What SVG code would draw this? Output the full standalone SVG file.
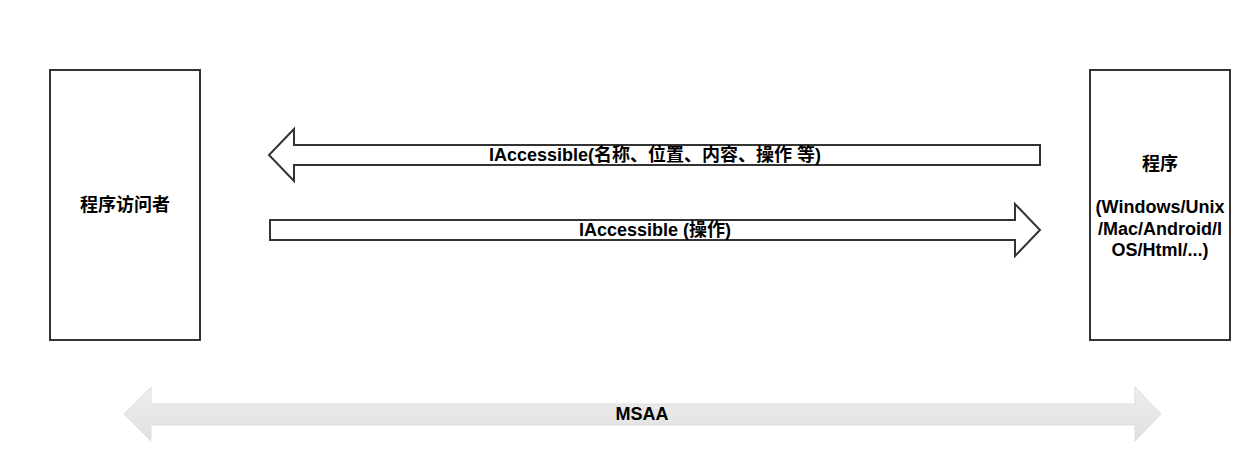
<svg xmlns="http://www.w3.org/2000/svg" width="1250" height="460" viewBox="0 0 1250 460">
<style>
.box{fill:#ffffff;stroke:#333333;stroke-width:2}
.arr{fill:#ffffff;stroke:#333333;stroke-width:2;stroke-linejoin:miter}
.t{font-family:"Liberation Sans","Noto Sans CJK SC",Arial,sans-serif;font-size:18px;font-weight:bold;fill:#000000;text-anchor:middle}
</style>
<defs>
<linearGradient id="g" x1="0" y1="0" x2="0" y2="1">
<stop offset="0" stop-color="#eeeeee"/>
<stop offset="1" stop-color="#e0e0e0"/>
</linearGradient>
</defs>
<rect width="1250" height="460" fill="#ffffff"/>
<g id="accessor">
<rect class="box" x="50" y="70" width="150" height="270"/>
<text class="t" x="125" y="205" dy="0.35em">程序访问者</text>
</g>
<g id="program">
<rect class="box" x="1090" y="70" width="140" height="270"/>
<text class="t" x="1160" y="163.6" dy="0.35em">程序</text>
<text class="t" x="1160" y="206.8" dy="0.35em">(Windows/Unix</text>
<text class="t" x="1160" y="228.4" dy="0.35em">/Mac/Android/I</text>
<text class="t" x="1160" y="250" dy="0.35em">OS/Html/...)</text>
</g>
<g id="connectors">
<g id="arrow-info">
<polygon class="arr" points="1040,145 294,145 294,129 269,155 294,181 294,165 1040,165"/>
<text class="t" x="655" y="155" dy="0.35em">IAccessible(名称、位置、内容、操作 等)</text>
</g>
<g id="arrow-op">
<polygon class="arr" points="270,220 1015,220 1015,204 1040,230 1015,256 1015,240 270,240"/>
<text class="t" x="655" y="230" dy="0.35em">IAccessible (操作)</text>
</g>
<g id="msaa">
<polygon fill="url(#g)" stroke="#dddddd" stroke-width="1" points="124,414 151,387 151,404 1135,404 1135,387 1161,414 1135,441 1135,425 151,425 151,441"/>
<text class="t" x="642" y="414" dy="0.35em">MSAA</text>
</g>
</g>
</svg>
